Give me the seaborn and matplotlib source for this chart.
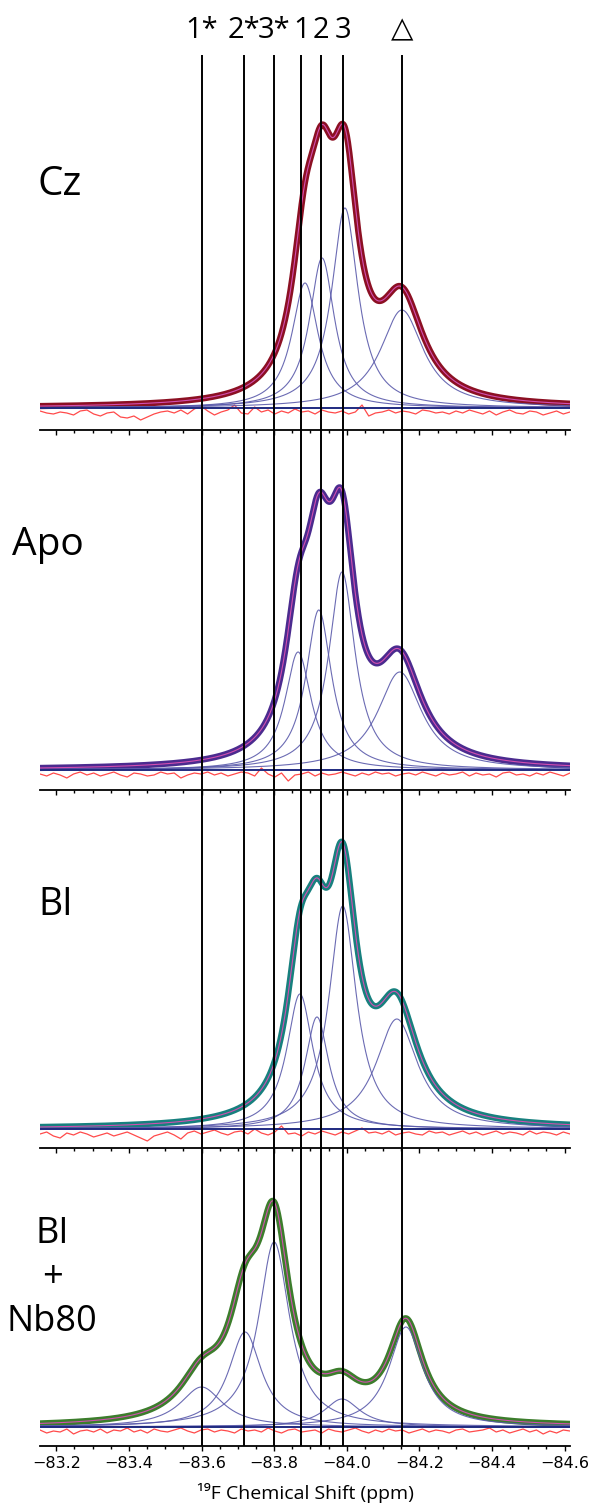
import numpy as np
import pandas as pd
import seaborn as sns
import matplotlib.pyplot as plt
from matplotlib.ticker import MultipleLocator

# 19F spectra, fitted Lorentzian components (intensity in arbitrary units)
panel_names = ["Cz", "Apo", "BI", "BI\n+\nNb80"]
trace_colors = ["#8c1023", "#4b2b8f", "#17807e", "#3c7d2c"]

line_labels = ["1*", "2*", "3*", "1", "2", "3", "\u25b3"]
line_shifts = [-83.60, -83.716, -83.80, -83.875, -83.928, -83.99, -84.152]

cz_centers = [-83.885, -83.932, -83.995, -84.152]
cz_heights = [125, 150, 200, 98]
cz_widths = [0.044, 0.042, 0.044, 0.072]

apo_centers = [-83.866, -83.923, -83.987, -84.146]
apo_heights = [118, 160, 198, 98]
apo_widths = [0.044, 0.043, 0.044, 0.074]

bi_centers = [-83.871, -83.918, -83.989, -84.138]
bi_heights = [135, 112, 223, 110]
bi_widths = [0.044, 0.040, 0.046, 0.070]

nb_centers = [-83.600, -83.720, -83.800, -83.987, -84.163]
nb_heights = [40, 95, 185, 28, 100]
nb_widths = [0.072, 0.055, 0.052, 0.060, 0.057]

cz_resid = [-3, -5, -6, -4, -5, -7, -3, -2, -6, -8, -5, -4, -9, -10, -8, -12, -9, -6, -4, -3,
            -5, -2, -6, -1, 2, -3, -7, -4, -2, 3, -5, -6, 1, -4, -2, -6, -3, -5, -1, -4,
            -3, -6, -2, -4, -5, -3, -6, -4, 3, -8, -5, -4, -2, -5, -3, -4, -6, -2, -3, -5,
            -4, -6, -3, -5, -2, -4, -6, -3, -7, -4, -2, -5, -6, -3, -4, -7, -5, -3, -6, -4]
apo_resid = [-4, -6, -3, -5, -8, -4, -2, -5, -3, -6, -4, -2, -5, -7, -3, -4, -6, -5, -2, -4,
             -3, -8, -5, -3, -4, -2, -5, -3, -6, -4, -2, -3, -6, 2, -4, -7, -3, -11, -5, -4,
             -2, -6, -3, -5, -4, -2, -4, -6, -3, -5, -2, -4, -3, -6, -4, -3, -5, -2, -4, -6,
             -3, -5, -4, -2, -6, -3, -5, -4, -7, -3, -2, -5, -4, -6, -3, -5, -2, -4, -6, -3]
bi_resid = [-5, -3, -7, -9, -4, -6, -3, -5, -8, -6, -4, -7, -5, -3, -6, -9, -12, -7, -5, -3,
            -6, -10, -4, -2, -5, -3, -1, -4, -6, -3, -2, -5, 0, -4, -6, -3, 3, -5, -4, -7,
            -3, -5, -2, -4, -6, -3, -5, -2, 1, -4, -3, -5, -2, -6, -4, -3, -5, -6, -2, -4,
            -3, -6, -4, -2, -5, -3, -6, -4, -2, -5, -3, -4, -6, -2, -5, -3, -4, -6, -3, -5]
nb_resid = [-3, -6, -4, -5, -2, -7, -4, -3, -5, -2, -6, -3, -4, -1, -5, -3, -6, -2, -4, -5,
            -3, -1, -4, -6, -3, -2, -5, -3, -4, -6, -2, -4, -3, -5, -1, -4, -6, -3, -2, -5,
            -4, -3, -6, -2, -4, -5, -3, -1, -4, -6, -3, -5, -2, -4, -3, -6, -4, -2, -5, -3,
            -4, -6, -3, -2, -5, -4, -3, -1, -5, -3, -6, -4, -2, -5, -3, -7, -4, -6, -3, -4]

panel_params = [
    (cz_centers, cz_heights, cz_widths, cz_resid),
    (apo_centers, apo_heights, apo_widths, apo_resid),
    (bi_centers, bi_heights, bi_widths, bi_resid),
    (nb_centers, nb_heights, nb_widths, nb_resid),
]

x_left, x_right = -83.155, -84.615


def lorentz(x, x0, height, hwhm):
    return height * hwhm ** 2 / ((x - x0) ** 2 + hwhm ** 2)


sns.set_style("white")
plt.rcParams["font.family"] = ["Open Sans", "DejaVu Sans"]
plt.rcParams["text.color"] = "black"
plt.rcParams["xtick.color"] = "black"

W, H = 592, 1504
fig = plt.figure(figsize=(W / 100, H / 100), dpi=100)


def px_axes(left, top, width, height):
    return fig.add_axes([left / W, 1 - (top + height) / H, width / W, height / H])


spine_y = [430, 790, 1148, 1446]
base_off = [22, 20, 19, 19]
panel_h = 320

x = np.linspace(x_left, x_right, 1500)

for i, (centers, heights, widths, resid) in enumerate(panel_params):
    ax = px_axes(40, spine_y[i] - panel_h, 530, panel_h)
    ax.patch.set_alpha(0)

    comps = [lorentz(x, c, h, w) for c, h, w in zip(centers, heights, widths)]
    fit = np.sum(comps, axis=0)
    data = pd.DataFrame({"shift": x, "fit": fit})

    sns.lineplot(data=data, x="shift", y="fit", ax=ax, color=trace_colors[i],
                 linewidth=4.5, estimator=None, sort=False, zorder=2)
    for comp in comps:
        ax.plot(x, comp, color="#5b5bab", linewidth=0.8, alpha=0.9, zorder=3)
    ax.axhline(0, color="#1f2a80", linewidth=1.4, zorder=3)
    resid_x = np.linspace(x_left, x_right, len(resid))
    sns.lineplot(x=resid_x, y=resid, ax=ax, color="#ff4a4a", linewidth=0.9,
                 estimator=None, sort=False, zorder=2.5)
    ax.plot(x, fit, color="#d24fb0", linewidth=0.8, zorder=4)

    ax.set_xlim(x_left, x_right)
    ax.set_ylim(-base_off[i], panel_h - base_off[i])
    ax.set_xlabel("")
    ax.set_ylabel("")
    ax.set_yticks([])
    for side in ["top", "left", "right"]:
        ax.spines[side].set_visible(False)
    ax.spines["bottom"].set_linewidth(1.3)
    ax.spines["bottom"].set_color("black")
    ax.xaxis.set_major_locator(MultipleLocator(0.2))
    ax.xaxis.set_minor_locator(MultipleLocator(0.05))
    ax.tick_params(axis="x", which="major", direction="out", length=3.5, width=1,
                   color="black", labelsize=11.5, pad=4)
    ax.tick_params(axis="x", which="minor", direction="out", length=2.5, width=1,
                   color="black")
    ax.xaxis.set_ticks_position("bottom")
    if i < 3:
        ax.tick_params(axis="x", which="both", labelbottom=False)
    else:
        for lab in ax.get_xticklabels():
            lab.set_family("DejaVu Sans")

# vertical reference lines across all panels
ov = px_axes(40, 55, 530, spine_y[-1] - 55)
ov.set_xlim(x_left, x_right)
ov.set_ylim(0, 1)
ov.axis("off")
ov.set_zorder(10)
for xs, lab in zip(line_shifts, line_labels):
    ov.axvline(xs, color="black", linewidth=1.4)
    ov.annotate(lab, xy=(xs, 1), xycoords=("data", "axes fraction"),
                xytext=(0, 18), textcoords="offset points",
                ha="center", va="center", fontsize=21)

label_pos = [(38, 185, "left"), (12, 545, "left"), (38, 905, "left"), (52, 1278, "center")]
label_sizes = [29, 28, 27, 26]
for name, (lx, ly, ha), fs in zip(panel_names, label_pos, label_sizes):
    fig.text(lx / W, 1 - ly / H, name, fontsize=fs, ha=ha, va="center",
             multialignment="center", linespacing=1.3)

fig.text(305 / W, 1 - 1493 / H, "\u00b9\u2079F Chemical Shift (ppm)", fontsize=14,
         ha="center", va="center")

fig.savefig("out.png", dpi=100)
